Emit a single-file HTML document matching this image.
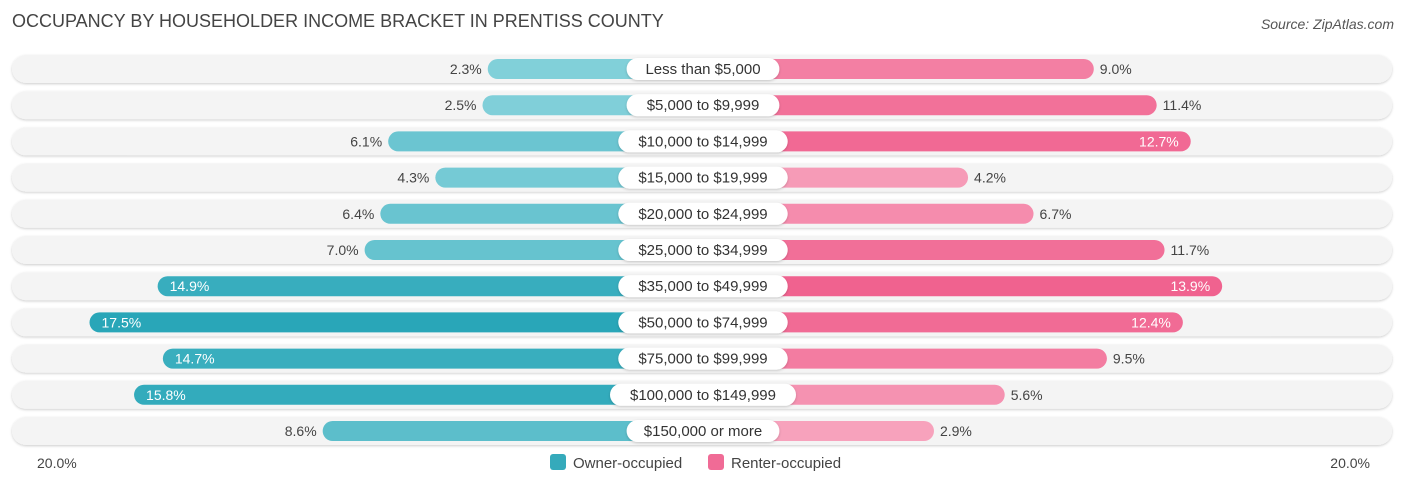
<!DOCTYPE html>
<html><head><meta charset="utf-8"><style>
body{margin:0;background:#fff;font-family:"Liberation Sans",sans-serif;}
#c{position:relative;width:1406px;height:487px;overflow:hidden;}
.t{position:absolute;white-space:nowrap;}
</style></head><body>
<div id="c">
<div class="t" style="left:12px;top:11px;font-size:18px;color:#444;">OCCUPANCY BY HOUSEHOLDER INCOME BRACKET IN PRENTISS COUNTY</div>
<div class="t" style="right:12px;top:16px;font-size:14px;color:#555;font-style:italic;">Source: ZipAtlas.com</div>
<svg id="s" width="1406" height="487" style="position:absolute;left:0;top:0"></svg>
</div>
<script>
const categories=["Less than $5,000","$5,000 to $9,999","$10,000 to $14,999","$15,000 to $19,999","$20,000 to $24,999","$25,000 to $34,999","$35,000 to $49,999","$50,000 to $74,999","$75,000 to $99,999","$100,000 to $149,999","$150,000 or more"];
const owner=[2.3,2.5,6.1,4.3,6.4,7.0,14.9,17.5,14.7,15.8,8.6];
const renter=[9.0,11.4,12.7,4.2,6.7,11.7,13.9,12.4,9.5,5.6,2.9];
const axisLabels=["20.0%","20.0%"];
const NS="http://www.w3.org/2000/svg";
const s=document.getElementById('s');
const cx=703, off=155, pxPer=26.2, y0=69, dy=36.2;
function xL(v){return cx-off-v*pxPer;}
function xR(v){return cx+off+v*pxPer;}
function yRow(i){return y0+i*dy;}
function mk(tag,attrs,name,txt){const e=document.createElementNS(NS,tag);for(const k in attrs)e.setAttribute(k,attrs[k]);


if(txt!==undefined)e.textContent=txt;s.appendChild(e);return e;}
function mix(a,b,t){const p=h=>[1,3,5].map(i=>parseInt(h.substr(i,2),16));const A=p(a),B=p(b);return 'rgb('+A.map((v,i)=>Math.round(v+(B[i]-v)*t)).join(',')+')';}
const defs=document.createElementNS(NS,'defs');defs.innerHTML='<filter id="sh" x="-5%" y="-50%" width="110%" height="200%"><feDropShadow dx="0" dy="1" stdDeviation="1.2" flood-color="#000" flood-opacity="0.2"/></filter>';s.appendChild(defs);
categories.forEach((c,i)=>{
  const y=yRow(i);
  mk('rect',{x:12,y:y-14,width:1380,height:28,rx:14,fill:'#f4f4f4',filter:'url(#sh)'},'row-background');
  const o=owner[i],r=renter[i];
  const oc=mix('#8ed6de','#29a6b8',Math.min(1,o/17.5));
  const rc=mix('#f9b3c8','#f0628f',Math.min(1,r/13.9));
  mk('rect',{x:xL(o),y:y-10,width:cx-xL(o),height:20,rx:10,fill:oc},'owner-bar');
  mk('rect',{x:cx,y:y-10,width:xR(r)-cx,height:20,rx:10,fill:rc},'renter-bar');
  if(o>=14) mk('text',{x:xL(o)+12,y:y+5,'font-size':14,fill:'#fff','font-family':'Liberation Sans'},'owner-value',o.toFixed(1)+'%');
  else mk('text',{x:xL(o)-6,y:y+5,'font-size':14,fill:'#444','text-anchor':'end','font-family':'Liberation Sans'},'owner-value',o.toFixed(1)+'%');
  if(r>=12) mk('text',{x:xR(r)-12,y:y+5,'font-size':14,fill:'#fff','text-anchor':'end','font-family':'Liberation Sans'},'renter-value',r.toFixed(1)+'%');
  else mk('text',{x:xR(r)+6,y:y+5,'font-size':14,fill:'#444','font-family':'Liberation Sans'},'renter-value',r.toFixed(1)+'%');
  const w=c.length*8.3+20;
  mk('rect',{x:cx-w/2,y:y-11,width:w,height:22,rx:11,fill:'#fff',filter:'url(#sh)'},'category-pill');
  mk('text',{x:cx,y:y+5,'font-size':15,fill:'#333','text-anchor':'middle','font-family':'Liberation Sans'},'category-label',c);
});
mk('text',{x:37,y:468,'font-size':14,fill:'#444','font-family':'Liberation Sans'},'axis-left-label',axisLabels[0]);
mk('text',{x:1370,y:468,'font-size':14,fill:'#444','text-anchor':'end','font-family':'Liberation Sans'},'axis-right-label',axisLabels[1]);
mk('rect',{x:550,y:454,width:16,height:16,rx:3,fill:'#35aabb'},'legend-owner-swatch');
mk('text',{x:573,y:468,'font-size':15,fill:'#444','font-family':'Liberation Sans'},'legend-owner-label','Owner-occupied');
mk('rect',{x:708,y:454,width:16,height:16,rx:3,fill:'#f06b96'},'legend-renter-swatch');
mk('text',{x:731,y:468,'font-size':15,fill:'#444','font-family':'Liberation Sans'},'legend-renter-label','Renter-occupied');
</script>
</body></html>
